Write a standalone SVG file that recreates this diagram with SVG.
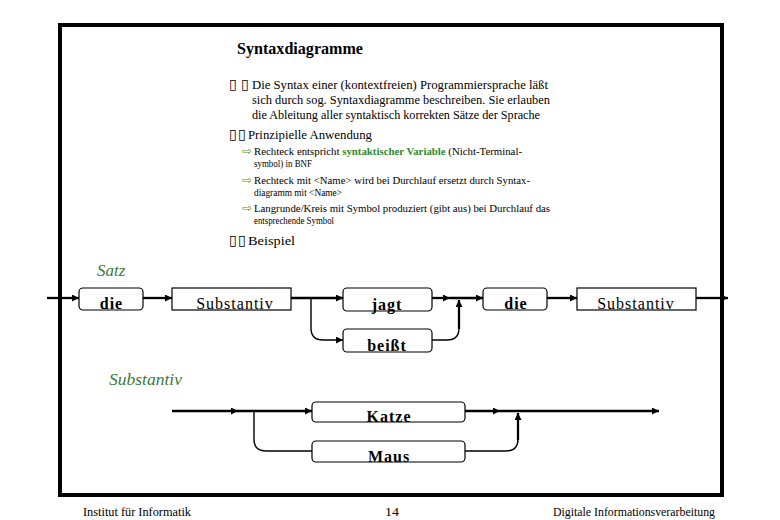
<svg xmlns="http://www.w3.org/2000/svg" width="780" height="520" viewBox="0 0 780 520">
<defs>
<marker id="ah" markerUnits="userSpaceOnUse" markerWidth="8" markerHeight="8" refX="7" refY="3.5" orient="auto">
<path d="M0,0 L7,3.5 L0,7 z" fill="#000"/>
</marker>
<style>
.serif{font-family:"Liberation Serif","Times New Roman",serif;fill:#000}
.h{font-size:13.5px}
.s{font-size:11px}
.tofu{font-family:"DejaVu Sans",sans-serif;font-size:14px;fill:#000}
.arr{font-family:"DejaVu Sans",sans-serif;font-size:12px;fill:#5a9a2a}
.grn{fill:#2f8a2f;font-weight:bold}
.lbl{font-family:"Liberation Serif",serif;font-style:italic;font-size:17px;fill:#3a7a3a}
.term rect{fill:#fff;stroke:#000;stroke-width:1.2}
.term text{font-family:"Liberation Serif",serif;font-weight:bold;font-size:16px;fill:#000;text-anchor:middle;letter-spacing:1px}
.nt rect{fill:#fff;stroke:#000;stroke-width:1.2}
.nt text{font-family:"Liberation Serif",serif;font-size:16px;fill:#000;text-anchor:middle;letter-spacing:1px}
.main{fill:none;stroke:#000;stroke-width:2.3}
.thin{fill:none;stroke:#000;stroke-width:1.4}
.foot{font-family:"Liberation Serif",serif;font-size:13px;fill:#000}
</style>
</defs>
<rect width="780" height="520" fill="#fff"/>
<rect x="60" y="25" width="662" height="470" fill="none" stroke="#000" stroke-width="4"/>

<text class="serif" x="237" y="54" font-size="16" font-weight="bold" textLength="126" lengthAdjust="spacingAndGlyphs">Syntaxdiagramme</text>

<text class="tofu" x="229" y="89">▯</text><text class="tofu" x="241" y="89">▯</text>
<text class="serif h" x="252" y="89" textLength="296" lengthAdjust="spacingAndGlyphs">Die Syntax einer (kontextfreien) Programmiersprache läßt</text>
<text class="serif h" x="252" y="104" textLength="298" lengthAdjust="spacingAndGlyphs">sich durch sog. Syntaxdiagramme beschreiben. Sie erlauben</text>
<text class="serif h" x="252" y="119" textLength="288" lengthAdjust="spacingAndGlyphs">die Ableitung aller syntaktisch korrekten Sätze der Sprache</text>

<text class="tofu" x="229" y="139">▯</text><text class="tofu" x="238" y="139">▯</text>
<text class="serif h" x="248" y="139" textLength="124" lengthAdjust="spacingAndGlyphs">Prinzipielle Anwendung</text>

<text class="arr" x="242" y="155">⇨</text>
<text class="serif s" x="254" y="155" textLength="268" lengthAdjust="spacingAndGlyphs">Rechteck entspricht <tspan class="grn">syntaktischer Variable</tspan> (Nicht-Terminal-</text>
<text class="serif s" x="254" y="167" textLength="58" lengthAdjust="spacingAndGlyphs">symbol) in BNF</text>
<text class="arr" x="242" y="184">⇨</text>
<text class="serif s" x="254" y="184" textLength="276" lengthAdjust="spacingAndGlyphs">Rechteck mit &lt;Name&gt; wird bei Durchlauf ersetzt durch Syntax-</text>
<text class="serif s" x="254" y="196" textLength="88" lengthAdjust="spacingAndGlyphs">diagramm mit &lt;Name&gt;</text>
<text class="arr" x="242" y="212">⇨</text>
<text class="serif s" x="254" y="212" textLength="296" lengthAdjust="spacingAndGlyphs">Langrunde/Kreis mit Symbol produziert (gibt aus) bei Durchlauf das</text>
<text class="serif s" x="254" y="224" textLength="80" lengthAdjust="spacingAndGlyphs">entsprechende Symbol</text>

<text class="tofu" x="229" y="245">▯</text><text class="tofu" x="238" y="245">▯</text>
<text class="serif h" x="248" y="245" textLength="47" lengthAdjust="spacingAndGlyphs">Beispiel</text>

<text class="lbl" x="97" y="276">Satz</text>
<text class="lbl" x="109" y="385" textLength="73" lengthAdjust="spacingAndGlyphs">Substantiv</text>

<g id="connectors">
<path class="main" d="M47,298 H79" marker-end="url(#ah)"/>
<path class="main" d="M143,298 H172" marker-end="url(#ah)"/>
<path class="main" d="M291,298 H343" marker-end="url(#ah)"/>
<path class="thin" d="M311,298 V328 Q311,340 323,340 H343" marker-end="url(#ah)"/>
<path class="main" d="M432,298 H450" marker-end="url(#ah)"/>
<path class="main" d="M450,298 H483" marker-end="url(#ah)"/>
<path class="thin" d="M432,340 H447 Q459,340 459,328"/>
<path class="main" d="M459,329 V300" marker-end="url(#ah)"/>
<path class="main" d="M547,298 H577" marker-end="url(#ah)"/>
<path class="main" d="M696,298 H728" marker-end="url(#ah)"/>

<path class="main" d="M172,411 H238" marker-end="url(#ah)"/>
<path class="main" d="M238,411 H312" marker-end="url(#ah)"/>
<path class="thin" d="M254,411 V439 Q254,451 266,451 H312"/>
<path class="main" d="M465,411 H500" marker-end="url(#ah)"/>
<path class="main" d="M500,411 H659" marker-end="url(#ah)"/>
<path class="thin" d="M465,451 H506 Q518,451 518,439"/>
<path class="main" d="M518,440 V413" marker-end="url(#ah)"/>
</g>

<g id="satz-die1" class="term"><rect x="79" y="288" width="64" height="22" rx="4"/><text x="111.5" y="309">die</text></g>
<g id="satz-substantiv1" class="nt"><rect x="172" y="288" width="119" height="22"/><text x="235" y="309">Substantiv</text></g>
<g id="satz-jagt" class="term"><rect x="343" y="288" width="89" height="23" rx="4"/><text x="387" y="310">jagt</text></g>
<g id="satz-beisst" class="term"><rect x="343" y="329" width="89" height="23" rx="4"/><text x="387" y="351">beißt</text></g>
<g id="satz-die2" class="term"><rect x="483" y="288" width="64" height="22" rx="4"/><text x="516" y="309">die</text></g>
<g id="satz-substantiv2" class="nt"><rect x="577" y="288" width="119" height="22"/><text x="636" y="309">Substantiv</text></g>

<g id="sub-katze" class="term"><rect x="312" y="402" width="153" height="20" rx="4"/><text x="389" y="422">Katze</text></g>
<g id="sub-maus" class="term"><rect x="312" y="441" width="153" height="21" rx="4"/><text x="389" y="462">Maus</text></g>

<text class="foot" x="83" y="516" textLength="108" lengthAdjust="spacingAndGlyphs">Institut für Informatik</text>
<text class="foot" x="385" y="516" font-size="15" textLength="14" lengthAdjust="spacingAndGlyphs">14</text>
<text class="foot" x="553" y="516" textLength="162" lengthAdjust="spacingAndGlyphs">Digitale Informationsverarbeitung</text>
</svg>
